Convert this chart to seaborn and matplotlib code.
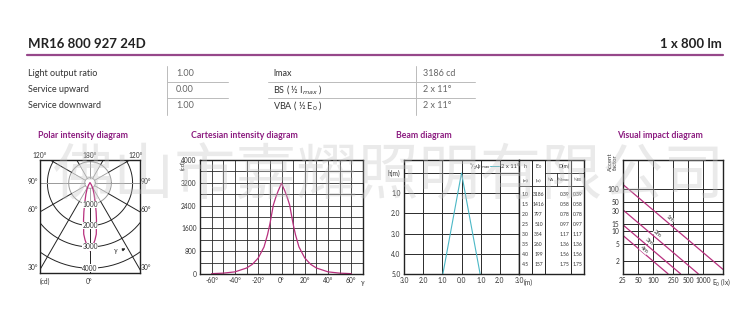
import numpy as np
import pandas as pd
import matplotlib
matplotlib.use("Agg")
import matplotlib.pyplot as plt
import seaborn as sns

# ---------------- data ----------------
title = "MR16 800 927 24D"
lumen = "1 x 800 lm"
left_labels = ["Light output ratio", "Service upward", "Service downward"]
left_values = ["1.00", "0.00", "1.00"]
right_labels = ["lmax", "BS ( ½ I$_{max}$ )", "VBA ( ½ E$_0$ )"]
right_values = ["3186 cd", "2 x 11°", "2 x 11°"]
section_titles = ["Polar intensity diagram", "Cartesian intensity diagram",
                  "Beam diagram", "Visual impact diagram"]

# luminous intensity distribution (cd) vs gamma angle
angles = [-60, -50, -40, -30, -25, -20, -15, -12, -10, -7, -5, -3, 0,
          3, 5, 7, 10, 12, 15, 20, 25, 30, 40, 50, 60]
intensity = [12, 30, 75, 210, 340, 560, 950, 1380, 1750, 2420, 2680, 2900, 3186,
             2900, 2680, 2420, 1750, 1380, 950, 560, 340, 210, 75, 30, 12]

polar_rings = [1000, 2000, 3000, 4000]

# beam diagram
beam_half_angle = 11
beam_depth = 5.0
table_h = ["1.0", "1.5", "2.0", "2.5", "3.0", "3.5", "4.0", "4.5"]
table_e0 = ["3186", "1416", "797", "510", "354", "260", "199", "157"]
table_d = ["0.39", "0.58", "0.78", "0.97", "1.17", "1.36", "1.56", "1.75"]

# visual impact diagram (endpoints)
vi_lines = {
    "1m": ([25, 2500], [127, 1.27]),
    "2m": ([25, 800], [32, 1.0]),
    "3m": ([25, 354], [14.2, 1.0]),
    "4m": ([25, 199], [8.0, 1.0]),
}
vi_xticks = [25, 50, 100, 250, 500, 1000]
vi_yticks = [2, 5, 10, 15, 30, 50, 100]

watermark = "佛山市嘉耀照明有限公司"

# ---------------- style ----------------
sns.set_style("white")
plt.rcParams['font.family'] = ['Lato', 'DejaVu Sans']
W, H = 755, 324
fig = plt.figure(figsize=(W / 100, H / 100), dpi=100)

PURPLE = "#96478a"
TITLE_PURPLE = "#8c1c80"
MAG = "#b8307e"
CYAN = "#4bb8c6"
TXT = "#333333"
GRID = "#2a2a2a"


def add_ax(x0, y0, x1, y1):
    return fig.add_axes([x0 / W, 1 - y1 / H, (x1 - x0) / W, (y1 - y0) / H])


ov = fig.add_axes([0, 0, 1, 1])
ov.set_xlim(0, W)
ov.set_ylim(H, 0)
ov.axis("off")
ov.set_zorder(10)
ov.patch.set_alpha(0)

# header
ov.text(28, 44, title, fontsize=9.5, fontweight="bold", color="#222", va="center")
ov.text(722, 44, lumen, fontsize=9.5, fontweight="bold", color="#222", va="center", ha="right")
ov.plot([27, 723], [55, 55], color=PURPLE, lw=1.6)

rows_y = [74, 90, 106]
for y, lab, val in zip(rows_y, left_labels, left_values):
    ov.text(28, y, lab, fontsize=6.5, color=TXT, va="center")
    ov.text(176, y, val, fontsize=6.5, color="#666", va="center")
for y, lab, val in zip(rows_y, right_labels, right_values):
    ov.text(273, y, lab, fontsize=6.5, color=TXT, va="center")
    ov.text(423, y, val, fontsize=6.5, color="#666", va="center")
for xv in [167, 416]:
    ov.plot([xv, xv], [66, 115], color="#bbbbbb", lw=0.7)
for yl in [82, 98]:
    ov.plot([167, 228], [yl, yl], color="#bbbbbb", lw=0.7)
    ov.plot([268, 475], [yl, yl], color="#bbbbbb", lw=0.7)

for x, t in zip([38, 191, 396, 617], section_titles):
    ov.text(x, 136, t, fontsize=6.3, fontweight="bold", color=TITLE_PURPLE, va="center")

# ---------------- polar ----------------
axp = add_ax(40, 160, 140, 273)
s = 1000 / 21.3
axp.set_xlim(-50 * s, 50 * s)
axp.set_ylim(-90 * s, 23 * s)
tt = np.linspace(0, 2 * np.pi, 200)
axp.plot(250 * np.cos(tt), 250 * np.sin(tt), color="#999", lw=0.6)
for r in polar_rings:
    col = "#999" if r == 1000 else "#222"
    axp.plot(r * np.cos(tt), r * np.sin(tt), color=col, lw=0.7)
for a in [0, 30, -30, 60, -60, 120, -120, 150, -150]:
    ar = np.deg2rad(a)
    axp.plot([250 * np.sin(ar), 1000 * np.sin(ar)], [-250 * np.cos(ar), -1000 * np.cos(ar)],
             color="#999", lw=0.6)
    axp.plot([1000 * np.sin(ar), 8000 * np.sin(ar)], [-1000 * np.cos(ar), -8000 * np.cos(ar)],
             color="#222", lw=0.7)
for a in [90, -90, 180]:
    ar = np.deg2rad(a)
    axp.plot([250 * np.sin(ar), 8000 * np.sin(ar)], [-250 * np.cos(ar), -8000 * np.cos(ar)],
             color="#999", lw=0.7)
th = np.deg2rad(np.array(angles, dtype=float))
I = np.array(intensity, dtype=float)
lobe = pd.DataFrame({"x": np.concatenate([[0], I * np.sin(th), [0]]),
                     "y": np.concatenate([[0], -I * np.cos(th), [0]])})
sns.lineplot(data=lobe, x="x", y="y", sort=False, color=MAG, lw=0.9, ax=axp, estimator=None)
for r in polar_rings:
    axp.text(0, -r, str(r), fontsize=4.8, color=TXT, ha="center", va="center",
             bbox=dict(facecolor="white", edgecolor="none", pad=0.2))
axp.set_xticks([])
axp.set_yticks([])
axp.set_xlabel("")
axp.set_ylabel("")
for sp in axp.spines.values():
    sp.set_color("#222")
    sp.set_linewidth(1.0)
pl = [("120°", 40, 155), ("180°", 90, 155), ("120°", 136, 155),
      ("90°", 33, 182), ("90°", 146, 182), ("60°", 33, 209), ("60°", 146, 209),
      ("30°", 33, 267), ("30°", 146, 267), ("(cd)", 45, 281), ("0°", 89, 281)]
for t, x, y in pl:
    ov.text(x, y, t, fontsize=4.8, color=TXT, ha="center", va="center")
ov.text(116, 251, "γ", fontsize=4.8, color=TXT, ha="center", va="center")
ov.annotate("", xy=(128, 247.5), xytext=(119.5, 251),
            arrowprops=dict(arrowstyle="-|>", color="#222", lw=0.6, mutation_scale=4))

# ---------------- cartesian ----------------
axc = add_ax(200, 160, 363, 274)
cart = pd.DataFrame({"gamma": angles, "cd": intensity})
sns.lineplot(data=cart, x="gamma", y="cd", color=MAG, lw=0.9, ax=axc)
axc.set_xlim(-70, 70)
axc.set_ylim(0, 4000)
xt = list(range(-70, 71, 10))
axc.set_xticks(xt)
axc.set_xticklabels([f"{v}°" if v % 20 == 0 and abs(v) <= 60 else "" for v in xt])
yt = list(range(0, 4001, 400))
axc.set_yticks(yt)
axc.set_yticklabels([str(v) if v % 800 == 0 else "" for v in yt])
axc.grid(True, color=GRID, lw=0.6)
axc.tick_params(length=0, labelsize=4.8, colors=TXT, pad=2.5)
axc.set_xlabel("")
axc.set_ylabel("")
for sp in axc.spines.values():
    sp.set_color("#222")
    sp.set_linewidth(1.0)
ov.text(183, 165, "(cd)", fontsize=4.5, color=TXT, rotation=90, ha="center", va="center")
ov.text(363, 282, "γ", fontsize=4.8, color=TXT, ha="center", va="center")

# ---------------- beam ----------------
axb = add_ax(404, 160, 519, 274)
tb = np.tan(np.deg2rad(beam_half_angle)) * beam_depth
beam = pd.DataFrame({"x": [-tb, 0, tb], "h": [beam_depth, 0, beam_depth]})
sns.lineplot(data=beam, x="x", y="h", sort=False, estimator=None, color=CYAN, lw=0.8, ax=axb)
axb.set_xlim(-3, 3)
axb.set_ylim(5, -0.65)
axb.set_xticks([-3, -2, -1, 0, 1, 2, 3])
axb.set_xticklabels(["3.0", "2.0", "1.0", "0.0", "1.0", "2.0", "3.0"])
axb.set_yticks([0, 1, 2, 3, 4, 5])
axb.set_yticklabels(["h(m)", "1.0", "2.0", "3.0", "4.0", "5.0"])
axb.grid(True, color=GRID, lw=0.7)
axb.tick_params(length=0, labelsize=4.8, colors=TXT, pad=2.5)
axb.set_xlabel("")
axb.set_ylabel("")
for sp in axb.spines.values():
    sp.set_color("#222")
    sp.set_linewidth(1.0)
axb.text(0.4, -0.33, "¹/₂ψ$_{max}$", fontsize=4.2, color=TXT, ha="left", va="center")
axb.plot([1.5, 1.95], [-0.33, -0.33], color=CYAN, lw=0.7)
axb.text(2.05, -0.33, "2 x 11°", fontsize=4.2, color=TXT, ha="left", va="center")
ov.text(528, 282, "(m)", fontsize=4.8, color=TXT, ha="center", va="center")

axt = add_ax(519, 160, 584, 274)
axt.set_xlim(519, 584)
axt.set_ylim(274, 160)
axt.set_xticks([])
axt.set_yticks([])
for sp in axt.spines.values():
    sp.set_color("#222")
    sp.set_linewidth(1.0)
for xv in [532, 545, 571]:
    axt.plot([xv, xv], [160, 274], color="#222", lw=0.7)
axt.plot([557, 557], [173, 186], color="#222", lw=0.6)
axt.plot([545, 584], [173, 173], color="#222", lw=0.6)
axt.plot([519, 584], [186, 186], color="#222", lw=0.6)
hdr1 = [("h", 525.5), ("E$_0$", 538.5), ("D(m)", 564.5)]
for t, x in hdr1:
    axt.text(x, 166.5, t, fontsize=3.8, color=TXT, ha="center", va="center")
hdr2 = [("(m)", 525.5), ("(lx)", 538.5), ("½A", 551), ("½I$_{max}$", 564), ("½E$_0$", 577.5)]
for t, x in hdr2:
    axt.text(x, 180, t, fontsize=3.2, color=TXT, ha="center", va="center")
for i, (h, e, d) in enumerate(zip(table_h, table_e0, table_d)):
    y = 194 + 10 * i
    axt.text(525.5, y, h, fontsize=3.6, color=TXT, ha="center", va="center")
    axt.text(538.5, y, e, fontsize=3.6, color=TXT, ha="center", va="center")
    axt.text(564.5, y, d, fontsize=3.6, color=TXT, ha="center", va="center")
    axt.text(577.5, y, d, fontsize=3.6, color=TXT, ha="center", va="center")

# ---------------- visual impact ----------------
axv = add_ax(623, 160, 723, 274)
for name, (xs, ys) in vi_lines.items():
    df = pd.DataFrame({"E": xs, "f": ys})
    sns.lineplot(data=df, x="E", y="f", color=MAG, lw=0.9, ax=axv)
axv.set_xscale("log")
axv.set_yscale("log")
axv.set_xlim(25, 2500)
axv.set_ylim(0.99, 480)
axv.set_xticks(vi_xticks)
axv.set_xticklabels([str(v) for v in vi_xticks])
axv.set_yticks(vi_yticks)
axv.set_yticklabels([str(v) for v in vi_yticks])
axv.minorticks_off()
axv.grid(True, color=GRID, lw=0.7)
axv.tick_params(length=0, labelsize=4.8, colors=TXT, pad=2.5)
axv.set_xlabel("")
axv.set_ylabel("")
for sp in axv.spines.values():
    sp.set_color("#222")
    sp.set_linewidth(1.0)
for name, (x, y) in zip(["1m", "2m", "3m", "4m"], [(670, 219), (657, 234), (649, 242), (644, 250)]):
    ov.text(x, y, name, fontsize=4.5, color=TXT, rotation=-40, ha="center", va="center",
            bbox=dict(facecolor="white", edgecolor="none", pad=0.1))
ov.text(712, 282, "E$_0$ (lx)", fontsize=4.8, color=TXT, ha="left", va="center")
ov.text(613, 162, "Accent\nfactor", fontsize=4.3, color=TXT, rotation=90, ha="center",
        va="center", linespacing=0.9)

# watermark
fig.text(388 / W, 1 - 177 / H, watermark, fontsize=44, color="#c4c4c4", alpha=0.35,
         ha="center", va="center", family=["Noto Sans CJK SC", "DejaVu Sans"], zorder=20)

fig.savefig("out.png", dpi=100)
